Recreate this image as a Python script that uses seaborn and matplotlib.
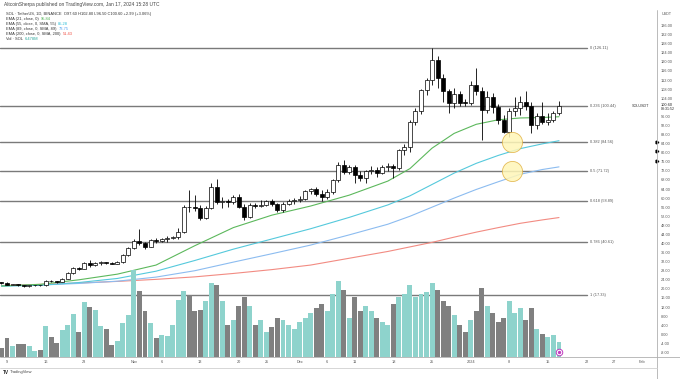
import numpy as np
import pandas as pd
import matplotlib
matplotlib.use("Agg")
import matplotlib.pyplot as plt
import matplotlib.dates as mdates
import matplotlib.transforms as mtransforms
from matplotlib.lines import Line2D
import seaborn as sns

# --- daily candles, SOL/USDT (Binance), 8 Oct 2023 .. 17 Jan 2024 ---
dates = pd.date_range("2023-10-08", "2024-01-17", freq="D")
opens = [22.8, 22.6, 21.9, 22.1, 21.6, 21.2, 21.5, 21.6, 21.5, 23.6, 23.3, 23.0, 24.5, 27.0,
         29.2, 28.9, 31.2, 30.4, 31.4, 31.7, 31.2, 31.0, 31.8, 34.8, 38.2, 41.2, 40.1, 38.6,
         41.4, 41.1, 41.9, 42.3, 42.7, 45.0, 56.0, 55.9, 55.6, 51.2, 55.8, 65.0, 58.3, 58.6,
         58.4, 60.6, 56.2, 51.7, 57.0, 56.5, 57.0, 58.6, 57.4, 54.7, 57.4, 58.6, 59.0, 59.8,
         63.2, 63.8, 62.0, 60.7, 62.9, 68.0, 74.6, 71.5, 73.5, 70.0, 68.8, 71.8, 72.5, 71.0,
         73.8, 74.2, 73.2, 81.0, 82.5, 93.5, 98.5, 107.5, 112.0, 121.0, 113.0, 107.2, 102.0, 106.0,
         102.0, 101.8, 110.0, 107.3, 99.0, 104.5, 100.2, 94.5, 89.2, 98.2, 99.8, 102.2, 100.5, 92.0,
         96.0, 93.6, 94.6, 97.60]
highs = [23.1, 22.9, 22.3, 22.3, 21.8, 21.7, 21.8, 21.8, 24.0, 23.8, 23.6, 24.8, 27.4, 29.5,
         29.8, 31.8, 32.9, 31.9, 32.4, 32.0, 31.9, 32.1, 35.2, 38.6, 42.0, 46.5, 40.8, 41.8,
         42.5, 42.3, 43.2, 43.5, 46.8, 57.0, 63.5, 61.4, 57.0, 56.5, 66.8, 68.5, 60.5, 59.5,
         61.5, 62.0, 57.5, 57.8, 58.0, 59.0, 59.2, 59.5, 58.0, 58.2, 59.8, 60.0, 60.8, 63.5,
         64.5, 65.0, 63.5, 64.0, 68.5, 76.0, 77.0, 74.5, 74.5, 72.0, 72.5, 74.0, 73.5, 74.5,
         75.5, 75.0, 81.5, 83.8, 94.5, 99.5, 108.0, 113.0, 126.11, 122.5, 114.5, 108.0, 108.5, 107.0,
         103.5, 111.5, 117.3, 109.0, 107.0, 106.5, 101.5, 96.5, 99.5, 104.5, 105.0, 107.0, 102.5, 97.5,
         102.5, 97.5, 98.5, 102.80]
lows = [22.3, 21.6, 21.5, 21.3, 20.9, 21.0, 21.3, 21.3, 21.4, 22.9, 22.8, 22.9, 24.3, 26.6,
        28.3, 28.6, 29.6, 29.9, 30.7, 30.8, 30.9, 30.9, 31.5, 34.3, 37.5, 39.2, 37.5, 38.3,
        40.3, 40.6, 40.7, 41.8, 42.0, 44.5, 54.0, 54.5, 50.5, 50.8, 55.0, 57.5, 55.5, 56.0,
        57.5, 55.8, 50.5, 51.2, 55.8, 56.0, 56.5, 56.5, 53.8, 54.0, 56.8, 57.5, 58.2, 59.2,
        62.0, 60.8, 58.8, 59.8, 62.0, 67.0, 70.5, 70.8, 66.5, 67.5, 66.5, 70.5, 69.5, 70.5,
        72.0, 69.0, 72.5, 79.0, 80.5, 92.0, 97.0, 105.5, 110.0, 108.5, 102.5, 97.5, 99.5, 100.5,
        100.5, 100.8, 105.5, 85.6, 97.5, 97.5, 92.5, 88.5, 86.8, 96.0, 96.5, 99.0, 88.5, 90.5,
        92.5, 92.0, 93.5, 96.50]
closes = [22.6, 21.9, 22.1, 21.6, 21.2, 21.5, 21.6, 21.5, 23.6, 23.3, 23.0, 24.5, 27.0, 29.2,
          28.9, 31.2, 30.4, 31.4, 31.7, 31.2, 31.0, 31.8, 34.8, 38.2, 41.2, 40.1, 38.6, 41.4,
          41.1, 41.9, 42.3, 42.7, 45.0, 56.0, 55.9, 55.6, 51.2, 55.8, 65.0, 58.3, 58.6, 58.4,
          60.6, 56.2, 51.7, 57.0, 56.5, 57.0, 58.6, 57.4, 54.7, 57.4, 58.6, 59.0, 59.8, 63.2,
          63.8, 62.0, 60.7, 62.9, 68.0, 74.6, 71.5, 73.5, 70.0, 68.8, 71.8, 72.5, 71.0, 73.8,
          74.2, 73.2, 81.0, 82.5, 93.5, 98.5, 107.5, 112.0, 121.0, 113.0, 107.2, 102.0, 106.0, 102.0,
          101.8, 110.0, 107.3, 99.0, 104.5, 100.2, 94.5, 89.2, 98.2, 99.8, 102.2, 100.5, 92.0, 96.0,
          93.6, 94.6, 97.61, 100.60]
volumes = [3.9, 8.2, 4.6, 5.5, 5.8, 4.6, 2.4, 2.9, 13.4, 8.6, 6.0, 11.5, 14.0, 18.7,
           10.8, 23.8, 21.6, 20.2, 13.4, 12.2, 5.0, 6.8, 14.8, 18.0, 37.4, 28.5, 19.9, 14.8,
           8.2, 9.4, 9.1, 14.0, 24.5, 28.5, 26.6, 19.9, 20.2, 24.0, 32.0, 31.0, 24.0, 14.0,
           16.0, 22.0, 26.0, 22.0, 14.0, 16.0, 11.0, 13.0, 17.0, 16.0, 14.0, 12.0, 15.0, 17.0,
           19.0, 21.0, 23.0, 20.0, 27.0, 33.0, 29.0, 17.0, 26.0, 20.0, 22.0, 20.0, 17.0, 15.0,
           14.0, 23.0, 26.0, 27.0, 31.0, 26.0, 27.0, 28.0, 32.0, 29.0, 24.0, 22.0, 18.0, 14.0,
           11.0, 16.0, 20.0, 30.0, 22.0, 19.0, 15.0, 17.0, 24.0, 19.0, 21.0, 16.0, 21.0, 12.0,
           10.0, 8.5, 9.5, 6.478]

# --- moving averages at sample dates ---
ma_dates = pd.to_datetime(["2023-10-08", "2023-10-15", "2023-10-22", "2023-10-29", "2023-11-05",
                           "2023-11-12", "2023-11-19", "2023-11-26", "2023-12-03", "2023-12-10",
                           "2023-12-17", "2023-12-21", "2023-12-25", "2023-12-29", "2024-01-02",
                           "2024-01-06", "2024-01-10", "2024-01-14", "2024-01-17"])
ema21 = [21.3, 22.0, 24.0, 26.5, 30.5, 39.0, 47.0, 52.5, 56.5, 61.3, 67.5, 73.0, 82.0, 88.5,
         92.5, 94.5, 95.3, 95.5, 95.84]
ema55 = [21.2, 21.6, 22.8, 24.6, 27.8, 32.5, 37.5, 42.0, 46.5, 51.5, 57.0, 61.0, 66.0, 71.0,
         75.3, 78.8, 81.8, 83.9, 85.28]
ema89 = [21.4, 21.7, 22.4, 23.4, 25.2, 28.0, 31.8, 35.5, 39.3, 43.8, 48.5, 52.0, 56.0, 60.0,
         63.8, 67.2, 70.5, 72.6, 73.75]
ema200 = [21.5, 22.0, 22.6, 23.3, 24.2, 25.3, 26.8, 28.5, 30.5, 33.5, 36.5, 38.5, 40.5, 42.8,
          45.0, 47.0, 48.9, 50.4, 51.43]

# --- fib retracement ---
fib_ratios = ["0", "0.236", "0.382", "0.5", "0.618", "0.786", "1"]
fib_prices = [126.11, 100.44, 84.56, 71.72, 58.89, 40.61, 17.33]

tick_dates = pd.to_datetime(["2023-10-09", "2023-10-16", "2023-10-23", "2023-11-01", "2023-11-06",
                             "2023-11-13", "2023-11-20", "2023-11-25", "2023-12-01", "2023-12-06",
                             "2023-12-11", "2023-12-18", "2023-12-25", "2024-01-01", "2024-01-08",
                             "2024-01-15", "2024-01-22", "2024-01-27", "2024-02-01"])
tick_labels = ["9", "16", "23", "Nov", "6", "13", "20", "25", "Dec", "6", "11", "18", "25",
               "2024", "8", "15", "22", "27", "Feb"]

W, H = 680, 379
sns.set_theme(style="white")
plt.rcParams['font.family'] = ['Liberation Sans', 'DejaVu Sans']

fig = plt.figure(figsize=(W / 100, H / 100), dpi=100)
ax = fig.add_axes([0, 22 / H, 657 / W, 348 / H])

x = mdates.date2num(dates)
o, h, l, c = map(np.array, (opens, highs, lows, closes))
up = c >= o

# candles
ax.vlines(x, l, h, color="black", linewidth=0.6, zorder=3)
body_lo = np.minimum(o, c)
body_h = np.maximum(np.abs(c - o), 0.35)
ax.bar(x, body_h, bottom=body_lo, width=0.72,
       color=np.where(up, "white", "black"), edgecolor="black", linewidth=0.5, zorder=4)

# moving averages
ma_x = mdates.date2num(ma_dates)
for vals, col in [(ema200, "#f28b82"), (ema89, "#8cbcf0"), (ema55, "#55c9dc"), (ema21, "#5cb85c")]:
    sns.lineplot(x=ma_x, y=vals, ax=ax, color=col, linewidth=0.8, zorder=2)

# fib levels
lab_tr = mtransforms.blended_transform_factory(ax.transAxes, ax.transData)
for r, p in zip(fib_ratios, fib_prices):
    ax.axhline(p, xmin=0, xmax=587 / 657, color="#7a7a7a", linewidth=1.0, zorder=1)
    ax.text(590 / 657, p, f"{r} ({p:.2f})", transform=lab_tr, fontsize=2.8,
            color="#555555", va="center", ha="left")

# highlighted circles
circ_x = mdates.date2num(pd.Timestamp("2024-01-08 12:00"))
ax.scatter([circ_x, circ_x], [84.56, 71.72], s=210, facecolor="#fff6b8", edgecolor="#e0b040",
           linewidth=0.6, alpha=0.85, zorder=5)

x0 = mdates.date2num(pd.Timestamp("2023-10-09")) - 7 / 5.52
ax.set_xlim(x0, x0 + 657 / 5.52)
ax.set_ylim(-10.0, 143.3)

# volume overlay
ax2 = ax.twinx()
ax2.bar(x, volumes, width=0.9, color=np.where(up, "#8ed3cc", "#808080"), linewidth=0)
ax2.scatter([x[-1]], [-7.6], s=22, facecolor="white", edgecolor="#c03cc0", linewidth=0.7,
            transform=ax.transData, zorder=6, clip_on=False)
ax2.scatter([x[-1]], [-7.6], s=2, color="#c03cc0", transform=ax.transData, zorder=7, clip_on=False)
ax2.set_ylim(0, 150.3)
ax2.set_xlim(ax.get_xlim())
ax2.set_yticks([])
for s in ax2.spines.values():
    s.set_visible(False)

# right price scale (after twinx, which moves the ticks to the left)
yt = [v for v in range(-8, 137, 4) if v != 100]
ax.yaxis.tick_right()
ax.set_yticks(yt)
ax.set_yticklabels([f"{v:.2f}" for v in yt])
ax.tick_params(axis="y", length=0, pad=2.9, labelsize=2.8, labelcolor="#555555",
               left=False, labelleft=False, right=True, labelright=True)
ax.set_xticks(mdates.date2num(tick_dates))
ax.set_xticklabels(tick_labels)
ax.tick_params(axis="x", length=0, pad=2.0, labelsize=2.8, labelcolor="#555555")
for s in ax.spines.values():
    s.set_visible(False)

# alert markers on price scale
for p in [84.6, 80.6, 76.3]:
    ax.plot([1.0], [p], marker=">", markersize=2, color="black", transform=lab_tr, clip_on=False)

# frame lines
def fline(xs, ys, col="#b0b0b0", lw=0.6):
    fig.add_artist(Line2D([v / W for v in xs], [1 - v / H for v in ys], color=col, linewidth=lw))

fline([657, 657], [10, 379])
fline([0, 680], [357, 357])
fline([0, 657], [368, 368], col="#d0d0d0")

# header and legend
fig.text(4 / W, 1 - 4.5 / H, "AltcoinSherpa published on TradingView.com, Jan 17, 2024 15:28 UTC",
         fontsize=3.5, color="#444444", va="center")
legend_rows = [
    ("SOL · TetherUS, 1D, BINANCE  O97.60 H102.80 L96.50 C100.60 +2.99 (+3.06%)", "", "#333333"),
    ("EMA (21, close, 0)", "95.84", "#4caf50"),
    ("EMA (55, close, 0, SMA, 55)", "85.28", "#26bcd6"),
    ("EMA (89, close, 0, SMA, 89)", "73.75", "#4a9ef0"),
    ("EMA (200, close, 0, SMA, 200)", "51.43", "#f04a3e"),
    ("Vol · SOL", "6.478M", "#26a69a"),
]
fig.canvas.draw()
rend = fig.canvas.get_renderer()
for i, (lab, val, col) in enumerate(legend_rows):
    yy = 1 - (13.5 + 5.1 * i) / H
    t = fig.text(6 / W, yy, lab, fontsize=2.9, color="#333333", va="center")
    if val:
        bb = t.get_window_extent(renderer=rend)
        fig.text(bb.x1 / W + 2 / W, yy, val, fontsize=2.9, color=col, va="center")

# price scale extras
fig.text(662 / W, 1 - 14 / H, "USDT", fontsize=2.7, color="#555555", va="center")
fig.text(649 / W, 1 - 106 / H, "SOLUSDT", fontsize=2.7, color="#333333", va="center", ha="right")
fig.text(661 / W, 1 - 104.5 / H, "100.60", fontsize=2.8, color="#222222", va="center")
fig.text(661 / W, 1 - 109 / H, "08:31:52", fontsize=2.5, color="#222222", va="center")

# watermark footer
fig.text(3 / W, 1 - 372.5 / H, "TV", fontsize=3.4, fontweight="bold", color="#222222", va="center")
fig.text(10 / W, 1 - 372.5 / H, "TradingView", fontsize=3.0, color="#444444", va="center")

fig.savefig("out.png", dpi=100)
